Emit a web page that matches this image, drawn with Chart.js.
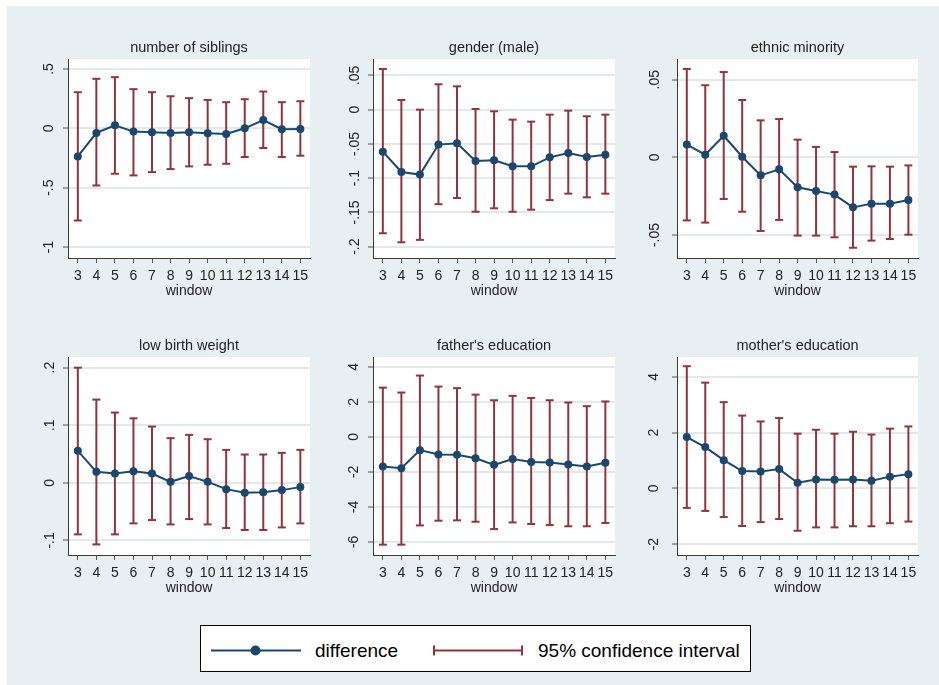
<!DOCTYPE html>
<html><head><meta charset="utf-8">
<script src="https://cdn.jsdelivr.net/npm/chart.js@4.4.1/dist/chart.umd.min.js"></script>
<style>
html,body{margin:0;padding:0;background:#fff;width:939px;height:685px;overflow:hidden;font-family:"Liberation Sans",Arial,sans-serif;}
#bg{position:absolute;left:7px;top:6px;width:932px;height:679px;background:#e8eff2;}
canvas.p{position:absolute;}
#legend{position:absolute;left:200px;top:625px;width:551px;height:47px;border:1.5px solid #000;background:#fff;box-sizing:border-box;}
.lt{position:absolute;font-size:19px;line-height:22px;color:#000;white-space:nowrap;}
</style></head><body>
<div id="bg"></div>
<div id="legend"></div>
<svg style="position:absolute;left:0;top:0" width="939" height="685">
  <line x1="211" y1="650.5" x2="301" y2="650.5" stroke="#1a476f" stroke-width="2"/>
  <circle cx="255.5" cy="650.5" r="5" fill="#1a476f"/>
  <line x1="433" y1="650.5" x2="523" y2="650.5" stroke="#90353b" stroke-width="2"/>
  <line x1="434" y1="645.5" x2="434" y2="655.5" stroke="#90353b" stroke-width="2"/>
  <line x1="522" y1="645.5" x2="522" y2="655.5" stroke="#90353b" stroke-width="2"/>
</svg>
<div class="lt" id="lg1" style="left:315px;top:639.5px"></div>
<div class="lt" id="lg2" style="left:538px;top:639.5px"></div>
<script>
// ---------------- data ----------------
const windows = [3,4,5,6,7,8,9,10,11,12,13,14,15];
const xAxisTitle = "window";
const legendLabels = ["difference", "95% confidence interval"];
const panelTitles = ["number of siblings","gender (male)","ethnic minority","low birth weight","father's education","mother's education"];

const siblingsDiff = [-0.237,-0.039,0.025,-0.028,-0.034,-0.039,-0.034,-0.042,-0.048,0.0,0.070,-0.008,-0.006];
const siblingsLow  = [-0.777,-0.482,-0.383,-0.397,-0.369,-0.344,-0.321,-0.307,-0.299,-0.242,-0.166,-0.242,-0.231];
const siblingsHigh = [0.304,0.417,0.431,0.330,0.304,0.270,0.254,0.239,0.220,0.245,0.310,0.220,0.228];

const genderDiff = [-0.0613,-0.091,-0.0948,-0.051,-0.049,-0.075,-0.074,-0.0827,-0.0827,-0.0696,-0.0632,-0.069,-0.0657];
const genderLow  = [-0.1804,-0.1936,-0.190,-0.138,-0.129,-0.149,-0.144,-0.149,-0.146,-0.132,-0.1226,-0.128,-0.1226];
const genderHigh = [0.0593,0.0141,0.0,0.037,0.034,0.001,-0.0024,-0.0146,-0.0175,-0.0073,-0.0015,-0.0097,-0.0073];

const ethnicDiff = [0.0082,0.0017,0.0139,0.0004,-0.0116,-0.0077,-0.0193,-0.0217,-0.024,-0.0322,-0.0298,-0.0298,-0.0275];
const ethnicLow  = [-0.0406,-0.042,-0.0268,-0.035,-0.0474,-0.0403,-0.0504,-0.0504,-0.0515,-0.0582,-0.0536,-0.0526,-0.0498];
const ethnicHigh = [0.0569,0.0464,0.0549,0.0369,0.0238,0.0247,0.0114,0.0067,0.0034,-0.006,-0.0058,-0.006,-0.0052];

const lbwDiff = [0.0555,0.0191,0.0162,0.0202,0.0162,0.0017,0.0116,0.0017,-0.011,-0.0173,-0.0162,-0.0127,-0.0075];
const lbwLow  = [-0.0896,-0.107,-0.0896,-0.0705,-0.0647,-0.0723,-0.063,-0.0723,-0.0786,-0.082,-0.082,-0.0775,-0.0705];
const lbwHigh = [0.2,0.1445,0.122,0.112,0.0977,0.0775,0.0832,0.0757,0.0572,0.0491,0.0491,0.052,0.0572];

const fatherDiff = [-1.69,-1.79,-0.76,-1.01,-1.03,-1.22,-1.60,-1.27,-1.44,-1.46,-1.58,-1.69,-1.48];
const fatherLow  = [-6.16,-6.16,-5.06,-4.79,-4.77,-4.85,-5.27,-4.89,-4.98,-5.04,-5.11,-5.11,-4.92];
const fatherHigh = [2.81,2.53,3.50,2.87,2.78,2.41,2.09,2.34,2.22,2.09,1.96,1.75,2.02];

const motherDiff = [1.84,1.48,1.01,0.62,0.60,0.69,0.20,0.32,0.31,0.32,0.27,0.42,0.51];
const motherLow  = [-0.70,-0.81,-1.03,-1.35,-1.21,-1.10,-1.52,-1.40,-1.40,-1.36,-1.36,-1.25,-1.19];
const motherHigh = [4.38,3.79,3.09,2.61,2.40,2.52,1.96,2.10,1.96,2.03,1.93,2.14,2.22];

const siblingsTicks = [-1,-0.5,0,0.5];            const siblingsTickLabels = ["-1","-.5","0",".5"];
const genderTicks = [-0.2,-0.15,-0.1,-0.05,0,0.05]; const genderTickLabels = ["-.2","-.15","-.1","-.05","0",".05"];
const ethnicTicks = [-0.05,0,0.05];               const ethnicTickLabels = ["-.05","0",".05"];
const lbwTicks = [-0.1,0,0.1,0.2];                const lbwTickLabels = ["-.1","0",".1",".2"];
const fatherTicks = [-6,-4,-2,0,2,4];             const fatherTickLabels = ["-6","-4","-2","0","2","4"];
const motherTicks = [-2,0,2,4];                   const motherTickLabels = ["-2","0","2","4"];

// ---------------- layout / style ----------------
const FONT = "'Liberation Sans', Arial, sans-serif";
const NAVY = "#1a476f", MAROON = "#90353b";
const PL = [68, 373, 677], PR = [310, 615, 918];
const PT = [59, 357], PB = [258, 555];
const Y_AXIS_W = 55, TITLE_H = 25, X_AXIS_H = 45, RIGHT_PAD = 12;
const X_MIN = 2.47, X_MAX = 15.52;

const panels = [
  {title: panelTitles[0], diff: siblingsDiff, low: siblingsLow, high: siblingsHigh, ticks: siblingsTicks, labels: siblingsTickLabels, yMin: -1.093, yMax: 0.584, labDist: 19},
  {title: panelTitles[1], diff: genderDiff, low: genderLow, high: genderHigh, ticks: genderTicks, labels: genderTickLabels, yMin: -0.2165, yMax: 0.0739, labDist: 18},
  {title: panelTitles[2], diff: ethnicDiff, low: ethnicLow, high: ethnicHigh, ticks: ethnicTicks, labels: ethnicTickLabels, yMin: -0.0648, yMax: 0.0633, labDist: 21.5},
  {title: panelTitles[3], diff: lbwDiff, low: lbwLow, high: lbwHigh, ticks: lbwTicks, labels: lbwTickLabels, yMin: -0.1254, yMax: 0.2185, labDist: 17.5},
  {title: panelTitles[4], diff: fatherDiff, low: fatherLow, high: fatherHigh, ticks: fatherTicks, labels: fatherTickLabels, yMin: -6.75, yMax: 4.56, labDist: 19},
  {title: panelTitles[5], diff: motherDiff, low: motherLow, high: motherHigh, ticks: motherTicks, labels: motherTickLabels, yMin: -2.39, yMax: 4.71, labDist: 23}
];

document.getElementById('lg1').textContent = legendLabels[0];
document.getElementById('lg2').textContent = legendLabels[1];

const measureCtx = document.createElement('canvas').getContext('2d');
measureCtx.font = "14px " + FONT;

const plotBg = {
  id: 'plotBg',
  beforeDraw(chart) {
    const {ctx, chartArea: a} = chart;
    ctx.save(); ctx.fillStyle = '#ffffff';
    ctx.fillRect(a.left, a.top, a.right - a.left, a.bottom - a.top);
    ctx.restore();
  }
};

panels.forEach((p, idx) => {
  const c = idx % 3, r = Math.floor(idx / 3);
  const left = PL[c] - Y_AXIS_W, top = PT[r] - TITLE_H;
  const w = PR[c] - PL[c] + Y_AXIS_W + RIGHT_PAD;
  const h = PB[r] - PT[r] + TITLE_H + X_AXIS_H;
  const cv = document.createElement('canvas');
  cv.className = 'p'; cv.width = w; cv.height = h;
  cv.style.left = left + 'px'; cv.style.top = top + 'px';
  cv.style.width = w + 'px'; cv.style.height = h + 'px';
  document.body.appendChild(cv);

  const widest = Math.max(...p.labels.map(s => measureCtx.measureText(s).width));
  const yPad = Math.max(0, p.labDist - 5 - widest / 2);

  const diffData = windows.map((x, i) => ({x: x, y: p.diff[i]}));
  const ciData = [];
  windows.forEach((x, i) => { ciData.push({x: x, y: p.low[i]}, {x: x, y: p.high[i]}, {x: x, y: null}); });

  new Chart(cv, {
    type: 'line',
    data: {
      datasets: [
        {label: legendLabels[0], data: diffData, borderColor: NAVY, borderWidth: 2, tension: 0,
         pointRadius: 4, pointBackgroundColor: NAVY, pointBorderColor: NAVY, pointBorderWidth: 0},
        {label: legendLabels[1], data: ciData, borderColor: MAROON, borderWidth: 2, tension: 0, spanGaps: false,
         pointStyle: 'line', pointRadius: 4, pointBorderColor: MAROON, pointBorderWidth: 2}
      ]
    },
    options: {
      responsive: false, animation: false, devicePixelRatio: 1, events: [],
      layout: {padding: {left: 0, right: RIGHT_PAD, top: 0, bottom: 0}},
      plugins: {
        legend: {display: false}, tooltip: {enabled: false},
        title: {display: true, text: p.title, fullSize: false, color: '#222',
                font: {family: FONT, size: 14.5, weight: 'normal', lineHeight: 1.2},
                padding: {top: 4.9, bottom: 2.7}}
      },
      scales: {
        x: {
          type: 'linear', min: X_MIN, max: X_MAX,
          afterBuildTicks: s => { s.ticks = windows.map(v => ({value: v})); },
          afterFit: s => { s.height = X_AXIS_H; s.paddingLeft = 0; s.paddingRight = 0; },
          ticks: {font: {family: FONT, size: 14}, color: '#222', padding: 5, autoSkip: false,
                  minRotation: 0, maxRotation: 0, callback: v => String(v)},
          grid: {drawOnChartArea: false, drawTicks: true, tickLength: 5, tickColor: '#555', tickWidth: 1},
          border: {display: true, color: '#3a3a3a', width: 1},
          title: {display: true, text: xAxisTitle, color: '#222', font: {family: FONT, size: 14},
                  padding: {top: 0, bottom: 3.2}}
        },
        y: {
          type: 'linear', min: p.yMin, max: p.yMax,
          afterBuildTicks: s => { s.ticks = p.ticks.map(v => ({value: v})); },
          afterFit: s => { s.width = Y_AXIS_W; s.paddingTop = 0; s.paddingBottom = 0; },
          ticks: {font: {family: FONT, size: 14}, color: '#222', minRotation: 90, maxRotation: 90,
                  crossAlign: 'center', padding: yPad,
                  callback: v => { const k = p.ticks.indexOf(v); return k >= 0 ? p.labels[k] : ''; }},
          grid: {color: '#e1e9ed', lineWidth: 2, drawTicks: true, tickLength: 5, tickColor: '#555', tickWidth: 1},
          border: {display: true, color: '#3a3a3a', width: 1}
        }
      }
    },
    plugins: [plotBg]
  });
});
</script>
</body></html>
